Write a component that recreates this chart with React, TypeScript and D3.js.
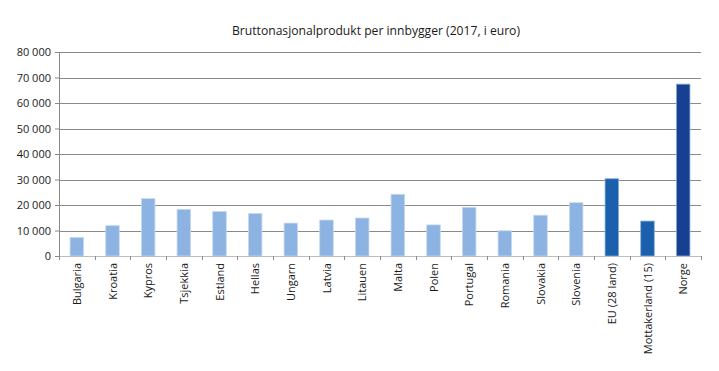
import React, { useEffect, useRef } from "react";
import * as d3 from "d3";

const countries = [
  "Bulgaria", "Kroatia", "Kypros", "Tsjekkia", "Estland", "Hellas", "Ungarn", "Latvia",
  "Litauen", "Malta", "Polen", "Portugal", "Romania", "Slovakia", "Slovenia",
  "EU (28 land)", "Mottakerland (15)", "Norge",
];
const gdp = [
  7300, 11900, 22500, 18300, 17500, 16700, 12900, 14100,
  14900, 24200, 12200, 19100, 9900, 16000, 20900,
  30300, 13700, 67400,
];
const yTicks = [0, 10000, 20000, 30000, 40000, 50000, 60000, 70000, 80000];
const title = "Bruttonasjonalprodukt per innbygger (2017, i euro)";

const barColor = (name: string) => {
  if (name === "Norge") return "#173f92";
  if (name === "EU (28 land)" || name === "Mottakerland (15)") return "#1b60ad";
  return "#8cb3e1";
};

export default function App() {
  const ref = useRef<SVGSVGElement>(null);

  useEffect(() => {
    const svg = d3.select(ref.current);
    svg.selectAll("*").remove();

    const margin = { top: 52, right: 18, bottom: 115, left: 59 };
    const width = 719 - margin.left - margin.right;
    const height = 371 - margin.top - margin.bottom;
    const font = "'Open Sans', 'Noto Sans', sans-serif";

    const x = d3.scaleBand().domain(countries).range([0, width]).paddingInner(0.62).paddingOuter(0.31);
    const xb = d3.scaleBand().domain(countries).range([0, width]);
    const y = d3.scaleLinear().domain([0, 80000]).range([height, 0]);
    const fmt = (v: number) => d3.format(",")(v).replace(/,/g, " ");

    svg.append("text")
      .attr("x", 376)
      .attr("y", 35)
      .attr("text-anchor", "middle")
      .attr("textLength", 288)
      .attr("lengthAdjust", "spacingAndGlyphs")
      .style("font-family", font)
      .style("font-size", "13px")
      .attr("fill", "#1a1a1a")
      .text(title);

    const g = svg.append("g").attr("transform", `translate(${margin.left}, ${margin.top})`);

    // gridlines
    g.selectAll(".grid").data(yTicks.filter((t) => t > 0)).join("line")
      .attr("class", "grid")
      .attr("x1", 0)
      .attr("x2", width)
      .attr("y1", (d) => Math.round(y(d)) + 0.5)
      .attr("y2", (d) => Math.round(y(d)) + 0.5)
      .attr("stroke", "#8a8a8a")
      .attr("stroke-width", 1);

    g.selectAll(".bar").data(countries).join("rect")
      .attr("class", "bar")
      .attr("x", (d) => x(d)!)
      .attr("y", (d, i) => y(gdp[i]))
      .attr("width", x.bandwidth())
      .attr("height", (d, i) => height - y(gdp[i]))
      .attr("fill", (d) => barColor(d))
      .attr("stroke", (d) => (barColor(d) === "#8cb3e1" ? "#c5daf2" : "#8aaed6"))
      .attr("stroke-width", 0.8);

    // y axis
    const yAxis = g.append("g").call(d3.axisLeft(y).tickValues(yTicks).tickSize(4).tickPadding(4).tickFormat((d) => fmt(d as number)));
    yAxis.select(".domain").attr("stroke", "#8a8a8a");
    yAxis.selectAll(".tick line").attr("stroke", "#8a8a8a");
    yAxis.selectAll(".tick text")
      .attr("fill", "#1a1a1a")
      .style("font-family", font)
      .style("font-size", "11px");

    // x axis
    const xAxis = g.append("g").attr("transform", `translate(0, ${height})`);
    xAxis.append("line")
      .attr("x1", 0).attr("x2", width)
      .attr("y1", 0.5).attr("y2", 0.5)
      .attr("stroke", "#bdbdbd");
    xAxis.selectAll(".xtick").data([...countries.map((c) => xb(c)!), width]).join("line")
      .attr("class", "xtick")
      .attr("x1", (d) => Math.round(d) + 0.5)
      .attr("x2", (d) => Math.round(d) + 0.5)
      .attr("y1", 0)
      .attr("y2", 4)
      .attr("stroke", "#8a8a8a");
    xAxis.selectAll(".xlabel").data(countries).join("text")
      .attr("class", "xlabel")
      .attr("transform", (d) => `translate(${xb(d)! + xb.bandwidth() / 2 + 4}, 7) rotate(-90)`)
      .attr("text-anchor", "end")
      .attr("fill", "#1a1a1a")
      .style("font-family", font)
      .style("font-size", "11px")
      .text((d) => d);
  }, []);

  return <svg ref={ref} width={719} height={371} style={{ display: "block", margin: "-8px" }} />;
}
